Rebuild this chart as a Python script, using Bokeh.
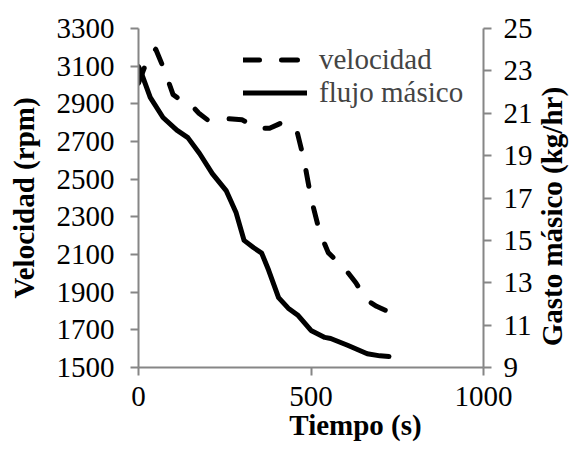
import math
from bokeh.plotting import figure
from bokeh.models import Range1d, LinearAxis, FixedTicker, Legend, LegendItem
from bokeh.embed import file_html
from bokeh.resources import INLINE

# --- data ---
tiempo_vel = [0, 25, 50, 75, 100, 125, 150, 175, 200, 225, 250, 300, 350, 380,
              410, 440, 460, 480, 500, 525, 550, 575, 600, 630, 660, 690, 720]
velocidad = [3010, 3130, 3190, 3080, 2950, 2915, 2900, 2850, 2815, 2815, 2822, 2815,
             2770, 2770, 2795, 2790, 2750, 2600, 2400, 2220, 2110, 2065, 2020, 1950,
             1860, 1825, 1800]

tiempo_flujo = [0, 6, 34, 71, 111, 143, 177, 214, 254, 283, 306, 334, 357, 377,
                406, 434, 463, 500, 540, 557, 606, 663, 700, 726]
flujo = [23.2, 23.0, 21.75, 20.8, 20.2, 19.85, 19.1, 18.15, 17.35, 16.3, 15.0,
         14.65, 14.4, 13.6, 12.3, 11.8, 11.45, 10.75, 10.42, 10.37, 10.05, 9.65,
         9.55, 9.52]

x_ticks = [0, 500, 1000]
vel_ticks = list(range(1500, 3301, 200))
flujo_ticks = list(range(9, 26, 2))

x_title = "Tiempo (s)"
x_title_anchor = 629          # centre of the x title (s scale)
left_title = "Velocidad (rpm)"
right_title = "Gasto másico (kg/hr)"
right_title_anchor = 10.0     # where the rotated right title starts (kg/hr scale)

FONT = "Liberation Serif"
TICK_FONT = "Times"
AXIS_COLOR = "#868686"
FS = "29px"

W, H = 586, 456
p = figure(width=W, height=H, output_backend="svg", toolbar_location=None,
           x_range=Range1d(0, 1000), y_range=Range1d(1500, 3300),
           min_border_left=138, min_border_right=W - 488, min_border_top=28,
           min_border_bottom=H - 367)
p.title.visible = False
p.outline_line_color = None
p.xgrid.visible = False
p.ygrid.visible = False
p.extra_y_ranges = {"flujo": Range1d(9, 25)}

right_axis = LinearAxis(y_range_name="flujo")
p.add_layout(right_axis, "right")

def style_axis(ax, ticks):
    ax.ticker = FixedTicker(ticks=ticks)
    ax.axis_line_color = AXIS_COLOR
    ax.axis_line_width = 2
    ax.major_tick_line_color = AXIS_COLOR
    ax.major_tick_line_width = 2
    ax.major_tick_out = 8
    ax.major_tick_in = 0
    ax.minor_tick_line_color = None
    ax.major_label_text_font = TICK_FONT
    ax.major_label_text_font_size = FS
    ax.major_label_text_color = "black"
    ax.axis_label_text_font = FONT
    ax.axis_label_text_font_size = FS
    ax.axis_label_text_font_style = "bold"
    ax.axis_label_text_color = "black"

style_axis(p.xaxis[0], x_ticks)
style_axis(p.yaxis[0], vel_ticks)
style_axis(right_axis, flujo_ticks)

p.xaxis[0].major_label_standoff = 11
p.yaxis[0].major_label_standoff = 16
p.yaxis[0].axis_label = left_title
p.yaxis[0].axis_label_standoff = 14
right_axis.major_label_standoff = 12

def title_axis(ticks, overrides, **kw):
    return LinearAxis(ticker=FixedTicker(ticks=ticks),
                      major_label_overrides=overrides,
                      axis_line_color=None, major_tick_line_color=None,
                      minor_tick_line_color=None, major_tick_out=0,
                      major_tick_in=0,
                      major_label_text_font=FONT, major_label_text_font_size=FS,
                      major_label_text_font_style="bold",
                      major_label_text_color="black", **kw)

# right-hand title: single rotated label of an otherwise bare axis
rt = title_axis([right_title_anchor], {right_title_anchor: right_title},
                y_range_name="flujo", major_label_orientation=math.pi / 2,
                major_label_standoff=16)
p.add_layout(rt, "right")

# x title: single label of an otherwise bare axis below
bt = title_axis([x_title_anchor], {x_title_anchor: x_title},
                major_label_standoff=0)
p.add_layout(bt, "below")

r_vel = p.line(tiempo_vel, velocidad, line_color="black", line_width=5,
               line_dash="16 22", line_cap="round", line_join="round")
r_flu = p.line(tiempo_flujo, flujo, y_range_name="flujo", line_color="black",
               line_width=5, line_cap="round", line_join="round")

legend = Legend(items=[LegendItem(label="velocidad", renderers=[r_vel]),
                       LegendItem(label="flujo másico", renderers=[r_flu])],
                location=(105, 258), margin=0, padding=0, spacing=0,
                glyph_width=64, glyph_height=29, label_standoff=12,
                label_text_font=FONT, label_text_font_size=FS,
                label_height=29, border_line_color=None,
                background_fill_alpha=0)
p.add_layout(legend)

open("out.html", "w").write(file_html(p, INLINE))
